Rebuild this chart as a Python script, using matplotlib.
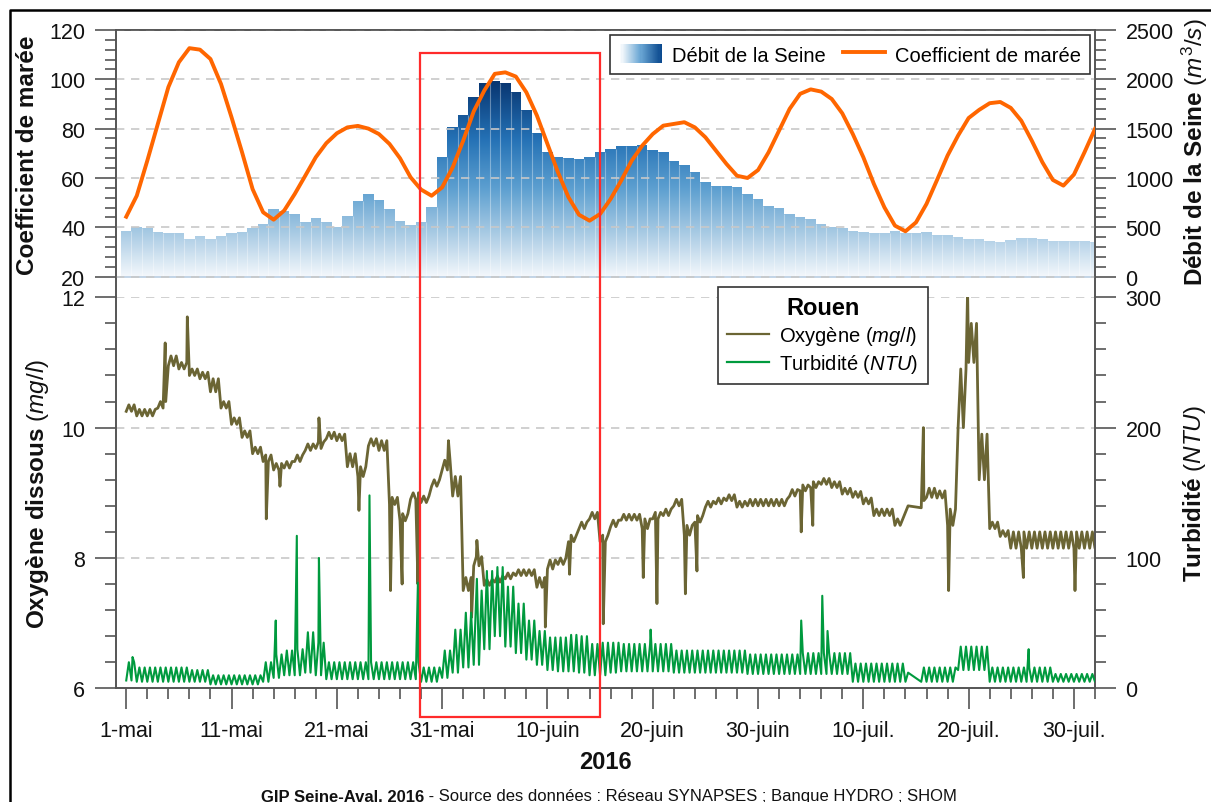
import numpy as np
import matplotlib
matplotlib.use("Agg")
import matplotlib.pyplot as plt
import matplotlib.dates as mdates
import matplotlib.transforms as mtransforms
from matplotlib.patches import Rectangle, PathPatch, Patch
from matplotlib.path import Path
from matplotlib.lines import Line2D
from matplotlib.colors import LinearSegmentedColormap
from matplotlib.legend_handler import HandlerBase
from matplotlib.ticker import FixedLocator
from datetime import datetime

plt.rcParams['font.family'] = ['Liberation Sans', 'DejaVu Sans']
plt.rcParams['mathtext.fontset'] = 'custom'
plt.rcParams['mathtext.rm'] = 'Liberation Sans'
plt.rcParams['mathtext.it'] = 'Liberation Sans:italic'
plt.rcParams['mathtext.bf'] = 'Liberation Sans:bold'

# ---------------------------------------------------------------- data
start_date = datetime(2016, 5, 1)          # day 0 = 1 May 2016, daily to 1 Aug

debit = [466, 507, 490, 449, 446, 439, 382, 412, 382, 412,
         439, 449, 490, 534, 682, 669, 635, 557, 595, 551,
         500, 611, 763, 834, 780, 682, 561, 527, 554, 706,
         1216, 1517, 1642, 1817, 1959, 1986, 1966, 1868, 1689, 1459,
         1267, 1216, 1206, 1196, 1216, 1267, 1294, 1324, 1324, 1331,
         1287, 1263, 1176, 1132, 1064, 959, 922, 922, 905, 841,
         790, 720, 699, 632, 608, 584, 534, 500, 493, 459,
         456, 446, 439, 459, 439, 446, 456, 422, 422, 405,
         385, 378, 361, 348, 372, 395, 395, 382, 365, 361,
         361, 365, 348]

coef = [44.3, 52.8, 67.0, 81.9, 96.8, 106.9, 112.6, 112.0, 108.2, 98.1,
        84.6, 70.4, 55.5, 46.1, 43.1, 46.8, 53.5, 60.9, 68.4, 74.1,
        78.1, 80.5, 81.1, 80.0, 77.8, 73.8, 68.0, 60.3, 55.3, 52.8,
        56.2, 64.3, 75.1, 87.0, 95.4, 102.2, 102.8, 101.1, 94.7, 85.3,
        73.8, 62.3, 52.2, 45.1, 42.7, 45.4, 51.5, 58.9, 67.0, 73.1,
        77.8, 81.2, 81.9, 82.6, 80.5, 76.5, 71.1, 65.7, 60.9, 60.0,
        63.2, 70.4, 79.2, 88.0, 94.1, 95.9, 95.0, 92.0, 86.2, 77.8,
        68.4, 57.6, 48.1, 40.7, 38.4, 42.0, 49.5, 59.2, 69.1, 77.2,
        84.3, 87.6, 90.3, 90.8, 88.4, 83.2, 75.1, 66.4, 59.2, 56.9,
        61.4, 70.4, 79.9]

# dissolved oxygen at Rouen (mg/l): daily lower / upper level of the trace
o2_low = [10.25, 10.18, 10.18, 10.3, 10.95, 10.9, 10.8, 10.75, 10.55, 10.3,
          10.05, 9.85, 9.6, 9.48, 9.35, 9.38, 9.48, 9.65, 9.68, 9.83,
          9.8, 9.4, 9.25, 9.72, 9.65, 8.82, 8.57, 8.9, 8.85, 9.1,
          9.35, 8.95, 7.5, 7.88, 7.58, 7.63, 7.68, 7.73, 7.73, 7.55,
          7.83, 7.9, 8.25, 8.45, 8.6, 8.25, 8.48, 8.58, 8.58, 8.45,
          8.6, 8.65, 8.8, 8.35, 8.55, 8.78, 8.83, 8.88, 8.78, 8.8,
          8.8, 8.8, 8.8, 8.95, 9.03, 9.08, 9.13, 9.08, 8.98, 8.93,
          8.83, 8.65, 8.65, 8.5, 8.7, 8.77, 8.93, 8.92, 8.5, 10.0,
          11.0, 9.2, 8.45, 8.33, 8.15, 8.15, 8.15, 8.15, 8.15, 8.15,
          8.15, 8.15, 8.15]
o2_high = [10.35, 10.28, 10.28, 10.4, 11.1, 11.0, 10.9, 10.85, 10.75, 10.4,
           10.15, 9.95, 9.7, 9.58, 9.45, 9.48, 9.58, 9.75, 9.78, 9.93,
           9.9, 9.6, 9.4, 9.83, 9.8, 8.93, 8.68, 9.0, 8.95, 9.2,
           9.5, 9.25, 7.7, 8.02, 7.67, 7.72, 7.77, 7.82, 7.82, 7.7,
           7.97, 8.0, 8.35, 8.55, 8.7, 8.35, 8.58, 8.67, 8.67, 8.6,
           8.7, 8.75, 8.9, 8.5, 8.65, 8.87, 8.92, 8.97, 8.87, 8.9,
           8.9, 8.9, 8.9, 9.05, 9.12, 9.17, 9.22, 9.17, 9.07, 9.02,
           8.92, 8.75, 8.75, 8.6, 8.8, 8.88, 9.07, 9.03, 8.75, 10.9,
           11.6, 9.9, 8.55, 8.42, 8.4, 8.4, 8.4, 8.4, 8.4, 8.4,
           8.4, 8.4, 8.4]
o2_spike_day = [3.7, 5.8, 13.3, 14.6, 18.3, 22.1, 25.1, 26.2, 27.7, 30.6,
                32.8, 33.3, 39.8, 42.1, 45.3, 49.1, 50.4, 53.1, 54.2, 64.1,
                65.2, 75.7, 78.1, 79.9, 85.2, 90.1]
o2_spike_val = [11.3, 11.7, 8.6, 9.1, 10.15, 8.73, 7.5, 7.6, 7.6, 9.8,
                7.09, 8.27, 6.94, 7.75, 6.99, 7.7, 7.3, 7.45, 7.8, 8.4,
                8.5, 10.0, 7.5, 12.1, 7.7, 7.5]

# turbidity at Rouen (NTU): daily low / high tidal levels
turb_low = [6, 5, 5, 5, 5, 5, 5, 5, 3, 3,
            3, 3, 3, 5, 8, 10, 10, 12, 10, 7,
            7, 7, 7, 7, 7, 7, 7, 7, 5, 5,
            8, 12, 16, 18, 30, 40, 32, 27, 22, 18,
            14, 13, 13, 12, 10, 10, 12, 13, 13, 13,
            13, 13, 12, 12, 12, 12, 12, 12, 12, 11,
            11, 11, 11, 11, 11, 11, 11, 11, 11, 5,
            5, 5, 5, 5, 5, 5, 5, 5, 5, 14,
            14, 14, 5, 5, 5, 5, 5, 5, 5, 5,
            5, 5, 5]
turb_high = [20, 16, 16, 16, 16, 16, 14, 14, 10, 10,
             10, 10, 10, 20, 26, 29, 30, 43, 35, 20,
             20, 20, 20, 20, 20, 20, 20, 20, 16, 16,
             29, 45, 58, 75, 90, 93, 78, 65, 52, 44,
             39, 39, 41, 40, 34, 35, 35, 34, 34, 34,
             34, 34, 29, 29, 29, 29, 29, 29, 29, 26,
             26, 26, 26, 26, 27, 27, 27, 27, 27, 19,
             19, 19, 19, 19, 12, 16, 16, 16, 16, 32,
             32, 32, 16, 16, 16, 16, 16, 16, 11, 11,
             11, 11, 11]
turb_spike_day = [0.6, 14.2, 16.2, 18.3, 23.1, 27.7, 33.3, 49.8, 64.1, 66.1, 66.6, 85.7]
turb_spike_val = [24, 52, 117, 100, 148, 81, 84, 45, 52, 71, 44, 30]

gap_days = [74.3, 75.4]                     # missing probe data
highlight_days = [27.9, 44.95]              # red frame period

xtick_days = [0, 10, 20, 30, 40, 50, 60, 70, 80, 90]
xtick_labels = ['1-mai', '11-mai', '21-mai', '31-mai', '10-juin',
                '20-juin', '30-juin', '10-juil.', '20-juil.', '30-juil.']
coef_ticks = [20, 40, 60, 80, 100, 120]
debit_ticks = [0, 500, 1000, 1500, 2000, 2500]
o2_ticks = [6, 8, 10, 12]
turb_ticks = [0, 100, 200, 300]

# ---------------------------------------------------------------- helpers
t0 = mdates.date2num(start_date)
days = np.arange(len(debit))
xd = t0 + days


def tidal_series(low, high, sday, sval, gap):
    low = np.asarray(low, float)
    high = np.asarray(high, float)
    n = len(low)
    t = (np.arange(n)[:, None] + np.array([0.0, 0.25, 0.5, 0.75])[None, :]).ravel()
    v = np.column_stack([low, high, low, high]).ravel()
    t = np.concatenate([t, sday])
    v = np.concatenate([v, sval])
    o = np.argsort(t, kind='stable')
    t, v = t[o], v[o]
    keep = ~((t > gap[0]) & (t < gap[1]))
    return t[keep], v[keep]


o2_t, o2_v = tidal_series(o2_low, o2_high, o2_spike_day, o2_spike_val, gap_days)
tu_t, tu_v = tidal_series(turb_low, turb_high, turb_spike_day, turb_spike_val, gap_days)

bar_cmap = LinearSegmentedColormap.from_list(
    'debit', [(0.0, '#f4f8fc'), (0.22, '#a9cbe4'), (0.45, '#5c9fd0'),
              (0.7, '#2471b5'), (1.0, '#07336e')])
leg_cmap = LinearSegmentedColormap.from_list('legdeb', ['#ffffff', '#6aa6d4', '#0b4a8f'])

ORANGE = '#ff6600'
OLIVE = '#6b6534'
GREEN = '#009a3e'
SPINE = '#555555'
GRID = '#c8c8c8'


class GradientHandler(HandlerBase):
    def create_artists(self, legend, orig_handle, xdescent, ydescent,
                       width, height, fontsize, trans):
        n = 40
        arts = []
        for i in range(n):
            r = Rectangle((-xdescent + width * i / n, -ydescent), width / n + 0.3, height,
                          transform=trans, facecolor=leg_cmap(i / (n - 1)),
                          edgecolor='none', lw=0)
            arts.append(r)
        return arts


# ---------------------------------------------------------------- figure
W, H = 1211, 803
fig = plt.figure(figsize=(W / 100, H / 100), dpi=100)


def fx(px):
    return px / W


def fy(py):
    return 1 - py / H


left_px, right_px = 115.7, 1095.0
top_top, top_mid, top_bot = 30.9, 277.7, 298.3
bot_top, bot_bot = 298.3, 689.3

ax1 = fig.add_axes([fx(left_px), fy(top_bot), fx(right_px - left_px), (top_bot - top_top) / H])
ax1r = ax1.twinx()
ax2 = fig.add_axes([fx(left_px), fy(bot_bot), fx(right_px - left_px), (bot_bot - bot_top) / H])
ax2r = ax2.twinx()

coef_lo = 20 - (top_bot - top_mid) / ((top_mid - top_top) / 100.0)
ax1.set_ylim(coef_lo, 120)
ax1r.set_ylim((coef_lo - 20) * 25, 2500)
ax2.set_ylim(6, 12)
ax2r.set_ylim(0, 300)
for a in (ax1, ax1r, ax2, ax2r):
    a.set_xlim(t0 - 1, t0 + 92)

# ---- discharge bars with vertical gradient
bars = ax1r.bar(xd, debit, width=1.0, facecolor='none', edgecolor='none', zorder=1)
paths = [b.get_path().transformed(b.get_patch_transform()) for b in bars]
clip = PathPatch(Path.make_compound_path(*paths), transform=ax1r.transData,
                 facecolor='none', edgecolor='none')
ax1r.add_patch(clip)
grad = np.linspace(0, 1, 256).reshape(-1, 1)
im = ax1r.imshow(grad, cmap=bar_cmap, aspect='auto', origin='lower',
                 extent=[t0 - 1, t0 + 93, 0, 2000], interpolation='bilinear', zorder=1)
im.set_clip_path(clip)
deb = np.asarray(debit, float)
ax1r.vlines(xd[:-1] + 0.5, 0, np.minimum(deb[:-1], deb[1:]), colors='white',
            alpha=0.35, lw=0.8, zorder=2)
ax1r.axhline(0, color='#b9cde2', lw=1.2, zorder=2)
ax1r.set_ylim((coef_lo - 20) * 25, 2500)
ax1r.set_xlim(t0 - 1, t0 + 92)

# ---- tide coefficient
ax1.plot(xd, coef, color=ORANGE, lw=2.8, solid_joinstyle='round', zorder=3)
ax1.set_zorder(ax1r.get_zorder() + 1)
ax1.patch.set_visible(False)
ax1.yaxis.grid(True, linestyle=(0, (5, 4)), color=GRID, lw=1.2)

# ---- oxygen & turbidity
ax2.plot(t0 + o2_t, o2_v, color=OLIVE, lw=2.0, zorder=3)
ax2r.plot(t0 + tu_t, tu_v, color=GREEN, lw=1.5, zorder=3)
ax2.yaxis.grid(True, linestyle=(0, (5, 4)), color=GRID, lw=1.2)
ax2.set_zorder(2)
ax2r.set_zorder(3)

# ---- spines
for a in (ax1, ax1r, ax2, ax2r):
    for s in a.spines.values():
        s.set_color(SPINE)
        s.set_linewidth(1.2)
for a in (ax1, ax1r):
    a.spines['bottom'].set_visible(False)
for a in (ax2, ax2r):
    a.spines['top'].set_visible(False)

# ---- ticks
ax1.yaxis.set_major_locator(FixedLocator(coef_ticks))
ax1.yaxis.set_minor_locator(FixedLocator(np.arange(20, 121, 4)))
ax1r.yaxis.set_major_locator(FixedLocator(debit_ticks))
ax1r.yaxis.set_minor_locator(FixedLocator(np.arange(0, 2501, 100)))
ax2.yaxis.set_major_locator(FixedLocator(o2_ticks))
ax2.yaxis.set_minor_locator(FixedLocator(np.arange(6, 12.01, 0.4)))
ax2r.yaxis.set_major_locator(FixedLocator(turb_ticks))
ax2r.yaxis.set_minor_locator(FixedLocator(np.arange(0, 301, 20)))
ax2.xaxis.set_major_locator(FixedLocator(t0 + np.array(xtick_days)))
ax2.xaxis.set_minor_locator(FixedLocator(t0 + np.arange(0, 93, 2)))
ax2.set_xticklabels(xtick_labels)
ax1.tick_params(axis='x', which='both', bottom=False, top=False, labelbottom=False)

for a in (ax1, ax1r, ax2, ax2r):
    a.tick_params(axis='y', which='major', length=15, width=1.2, color=SPINE,
                  labelsize=15.5, pad=7, labelcolor='#111111')
    a.tick_params(axis='y', which='minor', length=8, width=1.2, color=SPINE)
ax2.tick_params(axis='x', which='major', length=15, width=1.2, color=SPINE,
                labelsize=15.5, pad=8, labelcolor='#111111')
ax2.tick_params(axis='x', which='minor', length=8, width=1.2, color=SPINE)

# ---- axis titles
fig.text(fx(28), fy(155), 'Coefficient de marée', rotation=90, ha='center', va='center',
         fontsize=17.5, fontweight='bold', color='#111111')
fig.text(fx(38), fy(494), 'Oxygène dissous $\\mathit{(mg/l)}$', rotation=90, ha='center',
         va='center', fontsize=17.5, fontweight='bold', color='#111111')
fig.text(fx(1195), fy(152), 'Débit de la Seine $\\mathit{(m^3/s)}$', rotation=90, ha='center',
         va='center', fontsize=17.5, fontweight='bold', color='#111111')
fig.text(fx(1195), fy(494), 'Turbidité $\\mathit{(NTU)}$', rotation=90, ha='center',
         va='center', fontsize=17.5, fontweight='bold', color='#111111')
fig.text(fx(605), fy(763), '2016', ha='center', va='center', fontsize=17,
         fontweight='bold', color='#111111')

# ---- legends
proxy = Patch(facecolor='none')
leg1 = ax1.legend([proxy, Line2D([], [], color=ORANGE, lw=2.8)],
                  ['Débit de la Seine', 'Coefficient de marée'],
                  handler_map={proxy: GradientHandler()}, ncol=2, loc='upper right',
                  bbox_to_anchor=(fx(1090), fy(36)), bbox_transform=fig.transFigure,
                  borderaxespad=0, fontsize=14.5, frameon=True, fancybox=False,
                  edgecolor='#333333', framealpha=1, handlelength=2.1, handleheight=1.1,
                  handletextpad=0.5, columnspacing=0.85, borderpad=0.45)
leg1.get_frame().set_linewidth(1.2)
leg1.set_zorder(20)

leg2 = ax2r.legend([Line2D([], [], color=OLIVE, lw=1.6), Line2D([], [], color=GREEN, lw=1.6)],
                   ['Oxygène $\\mathit{(mg/l)}$', 'Turbidité $\\mathit{(NTU)}$'],
                   title='Rouen', title_fontproperties={'weight': 'bold', 'size': 17},
                   loc='upper left', bbox_to_anchor=(fx(718), fy(288)),
                   bbox_transform=fig.transFigure, borderaxespad=0, fontsize=14.5,
                   fancybox=False, edgecolor='#333333', framealpha=1, handlelength=2.1,
                   handletextpad=0.5, borderpad=0.45, labelspacing=0.25)
leg2.get_frame().set_linewidth(1.2)
leg2.set_zorder(20)

# ---- red highlight frame (spans both panels)
blend = mtransforms.blended_transform_factory(ax2.transData, fig.transFigure)
rect = Rectangle((t0 + highlight_days[0], fy(718)), highlight_days[1] - highlight_days[0],
                 fy(54) - fy(718), transform=blend, fill=False, edgecolor='#ff2b2b',
                 lw=1.6, zorder=30, clip_on=False)
fig.add_artist(rect)

# ---- outer frame
fig.add_artist(Line2D([fx(10), fx(10), 1.01], [-0.01, fy(11), fy(11)],
                      transform=fig.transFigure, color='black', lw=1.8, zorder=40))

# ---- footer
tb = fig.text(0, fy(797), 'GIP Seine-Aval, 2016', fontsize=12, fontweight='bold',
              ha='left', va='center', color='#111111')
tr = fig.text(0, fy(797), ' - Source des données : Réseau SYNAPSES ; Banque HYDRO ; SHOM',
              fontsize=12, ha='left', va='center', color='#111111')
fig.canvas.draw()
r = fig.canvas.get_renderer()
w1 = tb.get_window_extent(r).width
w2 = tr.get_window_extent(r).width
x0 = 609 - (w1 + w2) / 2
tb.set_x(fx(x0))
tr.set_x(fx(x0 + w1))

fig.savefig('out.png', dpi=100)
